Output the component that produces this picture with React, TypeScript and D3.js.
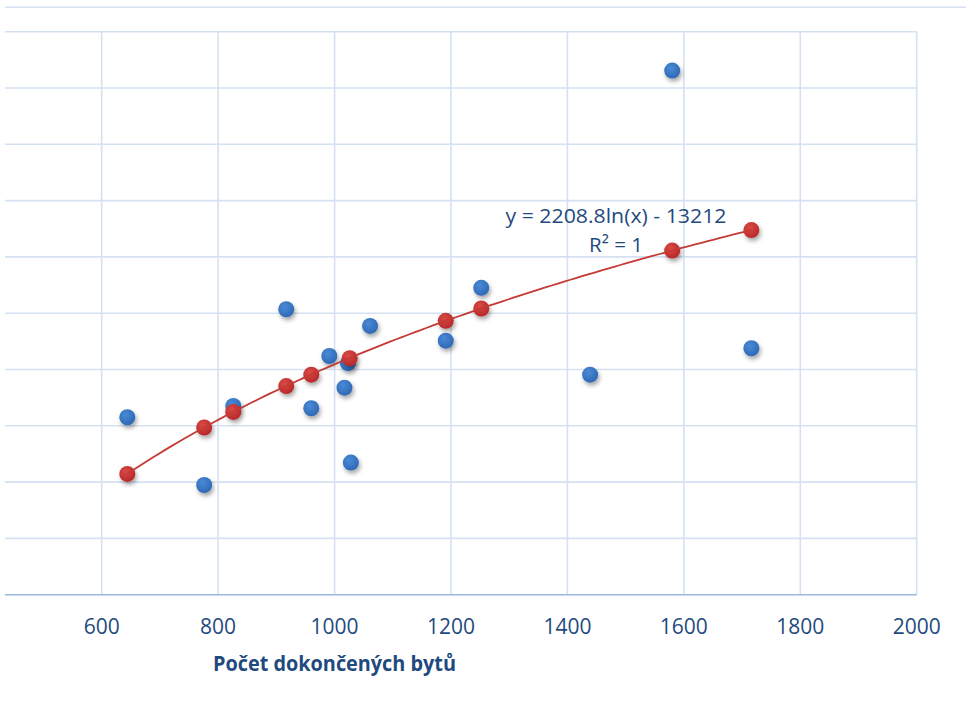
import React from "react";
import * as d3 from "d3";

// Blue series: observed values
const blueX = [644, 776, 826, 917, 960, 991, 1017, 1023, 1028, 1061, 1191, 1252, 1439, 1580, 1716];
const blueY = [1576, 974, 1676, 2535, 1656, 2120, 1839, 2056, 1173, 2387, 2256, 2725, 1954, 4655, 2189];

// Red series: fitted values (logarithmic)
const redX = [644, 776, 826, 917, 960, 1026, 1191, 1252, 1580, 1716];
const coefA = 2208.8;
const coefB = -13212;
const redY = [1073, 1485, 1623, 1853, 1954, 2101, 2432, 2542, 3056, 3238];

const xTicks = [600, 800, 1000, 1200, 1400, 1600, 1800, 2000];
const yGrid = [500, 1000, 1500, 2000, 2500, 3000, 3500, 4000, 4500, 5000];

const equationText = "y = 2208.8ln(x) - 13212";
const r2Text = "R² = 1";
const xTitle = "Počet dokončených bytů";

export default function App() {
  const W = 966;
  const H = 711;
  const x = d3.scaleLinear().domain([600, 2000]).range([101.7, 916.7]);
  const y = d3.scaleLinear().domain([0, 5000]).range([594.7, 31.7]);
  const left = 5;

  const trendPts = d3.range(0, 101).map((i) => {
    const xv = redX[0] + ((redX[redX.length - 1] - redX[0]) * i) / 100;
    return [xv, coefA * Math.log(xv) + coefB] as [number, number];
  });
  const line = d3
    .line<[number, number]>()
    .x((d) => x(d[0]))
    .y((d) => y(d[1]))
    .curve(d3.curveLinear);

  const textColor = "#1f4a7e";
  const gridColor = "#d5e1f2";
  const font = "'Open Sans', 'Liberation Sans', sans-serif";

  return (
    <svg
      width={W}
      height={H}
      style={{ position: "absolute", left: 0, top: 0, background: "#fff" }}
    >
      <defs>
        <radialGradient id="gBlue" cx="40%" cy="35%" r="65%">
          <stop offset="0%" stopColor="#4a8ad6" />
          <stop offset="100%" stopColor="#2f69b5" />
        </radialGradient>
        <radialGradient id="gRed" cx="40%" cy="35%" r="65%">
          <stop offset="0%" stopColor="#d94a44" />
          <stop offset="100%" stopColor="#b8292a" />
        </radialGradient>
        <filter id="shadow" x="-50%" y="-50%" width="200%" height="200%">
          <feDropShadow dx="1.5" dy="3" stdDeviation="2" floodColor="#000" floodOpacity="0.35" />
        </filter>
      </defs>

      {/* top border line */}
      <line x1={left} x2={W} y1={7.3} y2={7.3} stroke={gridColor} strokeWidth={1.5} />

      {/* horizontal gridlines */}
      {yGrid.map((v) => (
        <line key={"h" + v} x1={left} x2={x(2000)} y1={y(v)} y2={y(v)} stroke={gridColor} strokeWidth={1.6} />
      ))}
      {/* vertical gridlines */}
      {xTicks.map((v) => (
        <line key={"v" + v} x1={x(v)} x2={x(v)} y1={y(5000)} y2={y(0)} stroke={gridColor} strokeWidth={1.6} />
      ))}
      {/* x axis */}
      <line x1={left} x2={x(2000)} y1={y(0)} y2={y(0)} stroke="#9ab7e0" strokeWidth={1.6} />

      {/* tick labels */}
      {xTicks.map((v) => (
        <text
          key={"t" + v}
          x={x(v)}
          y={634}
          textAnchor="middle"
          fontFamily={font}
          fontSize={21}
          fill={textColor}
        >
          {v}
        </text>
      ))}

      {/* axis title */}
      <text
        x={213}
        y={671}
        fontFamily={font}
        fontWeight="bold"
        fontSize={20.5}
        fill={textColor}
        textLength={243}
        lengthAdjust="spacingAndGlyphs"
      >
        {xTitle}
      </text>

      {/* blue points */}
      {blueX.map((xv, i) => (
        <circle key={"b" + i} cx={x(xv)} cy={y(blueY[i])} r={8} fill="url(#gBlue)" filter="url(#shadow)" />
      ))}
      {/* red points */}
      {redX.map((xv, i) => (
        <circle key={"r" + i} cx={x(xv)} cy={y(redY[i])} r={8} fill="url(#gRed)" filter="url(#shadow)" />
      ))}
      {/* trendline */}
      <path d={line(trendPts) || ""} fill="none" stroke="#c53a35" strokeWidth={1.8} />

      {/* equation */}
      <text x={616} y={223} textAnchor="middle" fontFamily={font} fontSize={20.5} fill={textColor} textLength={221} lengthAdjust="spacingAndGlyphs">
        {equationText}
      </text>
      <text x={616} y={252} textAnchor="middle" fontFamily={font} fontSize={20.5} fill={textColor} textLength={54} lengthAdjust="spacingAndGlyphs">
        {r2Text}
      </text>
    </svg>
  );
}
